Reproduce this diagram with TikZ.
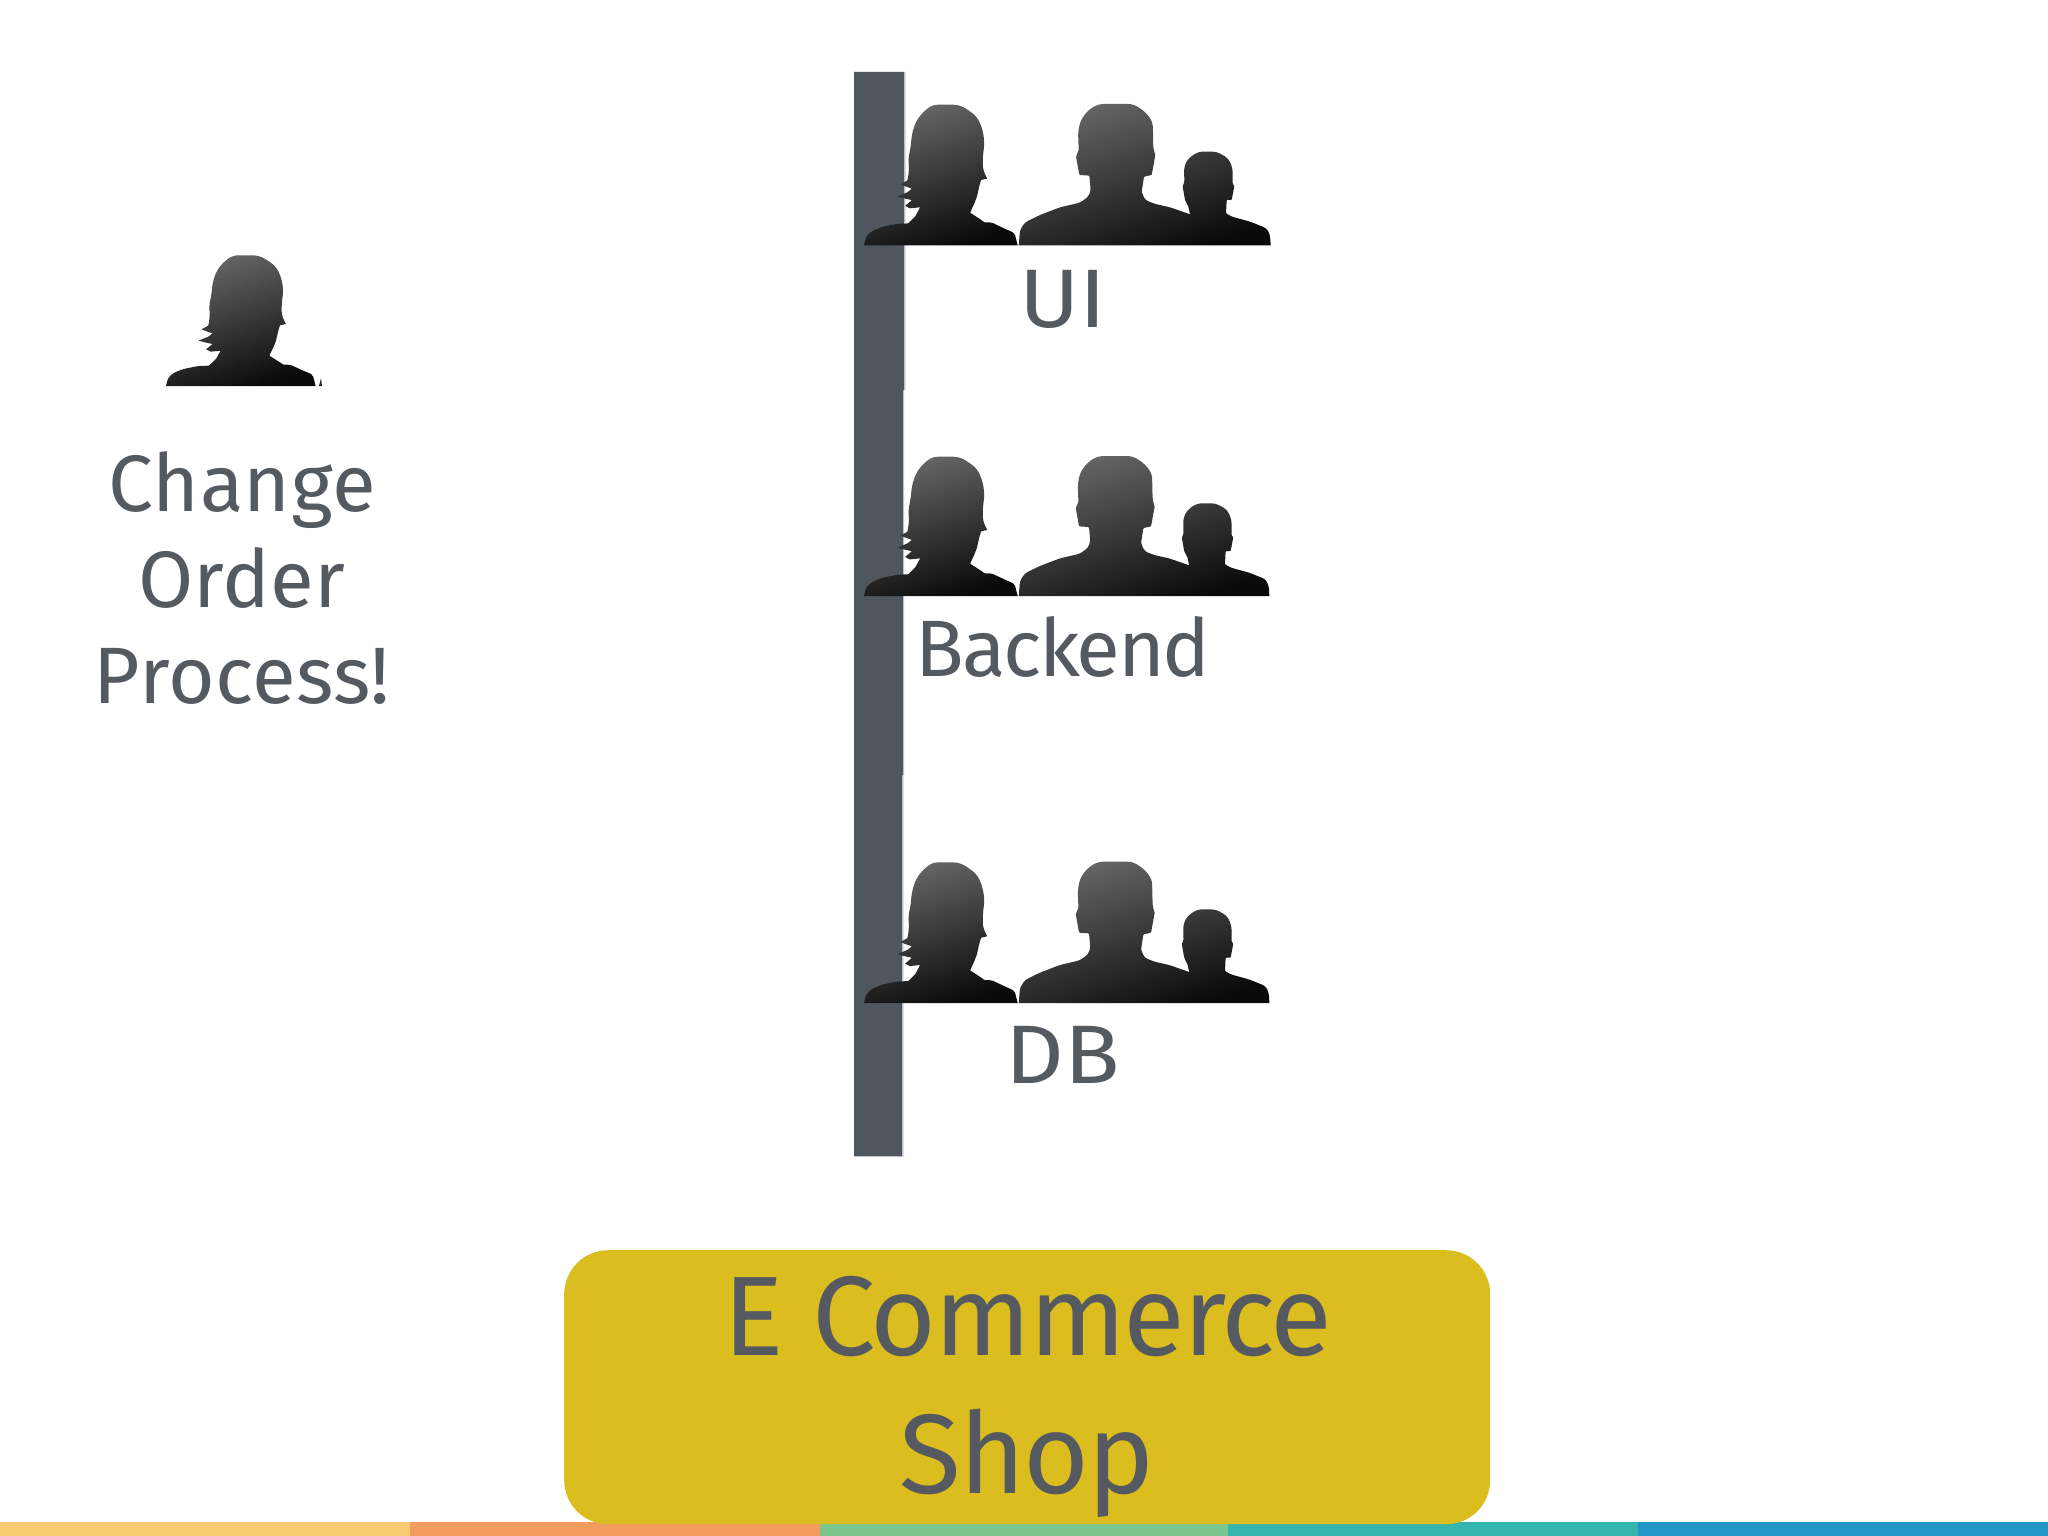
\documentclass[tikz,border=0pt]{standalone}
\usepackage{fontspec}
\setmainfont{Fira Sans}
\newfontfamily\spaced{Fira Sans}[LetterSpace=0.5]
\newfontfamily\tight{Fira Sans}[LetterSpace=-3]
\newfontfamily\wide{Fira Sans}[FakeStretch=1.1]
\newfontfamily\shopfont{Fira Sans}[LetterSpace=-2]
\definecolor{inkgrey}{HTML}{555A60}
\definecolor{barcol}{HTML}{50565D}
\definecolor{shopcol}{HTML}{DCBD20}
\definecolor{s1}{HTML}{F8CB70}
\definecolor{s2}{HTML}{F29D5E}
\definecolor{s3}{HTML}{7DC58F}
\definecolor{s4}{HTML}{33B5AD}
\definecolor{s5}{HTML}{2298C8}
\tikzset{
  sil/.style={top color=black!60,bottom color=black!96,shading angle=18},
  label/.style={text=inkgrey,anchor=base,inner sep=0pt,font=\fontsize{83}{95}\selectfont},
  woman/.pic={
    \begin{scope}[x=.3333pt,y=-.3333pt,shift={(-78,-436)}]
    \path[sil] (78,436) [rounded corners=3pt] --(84,412)--(100,397)--(130,385)--(175,376) [rounded corners=.5pt] --(207,375)--(228,355)--(242,330)--(212,333)--(198,326)--(218,310)--(195,305)--(175,300)--(205,288)--(218,278)--(200,272)--(184,266)--(205,255) [rounded corners=5pt] --(210,225)--(207,195)--(214,165)--(218,125)--(230,90)--(250,65)--(278,44)--(355,44)--(385,60)--(410,80)--(425,115)--(430,150)--(425,190)--(425,225) [rounded corners=.5pt] --(438,250)--(420,254)--(415,270)--(408,300)--(400,320)--(388,345)--(420,365)--(430,372) [rounded corners=2pt] --(450,372)--(490,390)--(518,402) [sharp corners] --(527,436)--cycle;
    \end{scope}
  },
  men/.pic={
    \begin{scope}[x=.3333pt,y=-.3333pt,shift={(-536,-556)}]
    \path[sil] (536,556) [rounded corners=3pt] --(540,510)--(555,487)--(600,465)--(660,442)--(720,428)--(745,410)--(752,392) [rounded corners=.8pt] --(748,347)--(718,345)--(708,290)--(716,270) [rounded corners=5pt] --(714,215)--(722,180)--(745,150)--(775,132)--(880,132)--(915,155)--(938,185)--(940,270) [rounded corners=.8pt] --(946,285)--(935,345)--(912,350)--(905,395) [rounded corners=3pt] --(915,420)--(945,432)--(990,442) [sharp corners] --(1050,463)--(1045,440) [rounded corners=.8pt] --(1035,420)--(1028,380)--(1033,365) [rounded corners=4pt] --(1032,320)--(1045,295)--(1075,275)--(1130,275)--(1165,295)--(1178,325) [rounded corners=.8pt] --(1178,372)--(1183,378)--(1175,420)--(1160,420)--(1158,460) [rounded corners=3pt] --(1175,470)--(1230,485)--(1280,505)--(1290,525) [sharp corners] --(1292,556)--cycle;
    \end{scope}
  }
}
\begin{document}
\begin{tikzpicture}[x=1pt,y=-1pt]
\useasboundingbox (0,0) rectangle (2048,1536);
\fill[white] (0,0) rectangle (2048,1536);
% colour strip
\fill[s1] (0,1522) rectangle (410,1536);
\fill[s2] (410,1522) rectangle (820,1536);
\fill[s3] (820,1522) rectangle (1228,1536);
\fill[s4] (1228,1522) rectangle (1638,1536);
\fill[s5] (1638,1522) rectangle (2048,1536);
% vertical bar
\fill[black!18] (904,72)--(905.5,72)--(905.5,390)--(904,390)--(904,775)--(903.5,775)--(903.5,1157)--(854,1157)--(854,72)--cycle;
\fill[barcol] (854,72)--(904,72)--(904,390)--(903,390)--(903,775)--(902,775)--(902,1156)--(854,1156)--cycle;
% silhouettes
\pic[xscale=1.027,yscale=1.076] at (864,245.3) {woman};
\pic at (1018.7,245.3) {men};
\pic[xscale=1.027,yscale=1.066] at (864,596) {woman};
\pic[xscale=.995,yscale=.99] at (1018.7,596) {men};
\pic[xscale=1.027,yscale=1.076] at (864,1003) {woman};
\pic[xscale=.995] at (1018.7,1003) {men};
\pic at (166,386) {woman};
\fill[black!85] (319,386)--(321,378)--(322,386)--cycle;
% labels
\node[label,font=\fontsize{83}{95}\wide] (ui) at (1063,327) {UI};
\node[label,font=\fontsize{80}{95}\tight] (backend) at (1063,676.5) {Backend};
\node[label,font=\fontsize{83}{95}\wide] (db) at (1063,1083) {DB};
\node[label,align=center,font=\fontsize{80}{96}\spaced,anchor=north] (change) at (242,451) {Change\\Order\\Process!};
% shop
\node[draw=none,fill=shopcol,rounded corners=44pt,minimum width=926pt,minimum height=274pt,inner sep=0pt,anchor=north west] (shop) at (564,1250) {};
\node[text=inkgrey,inner sep=0pt,anchor=base,font=\fontsize{113}{138}\shopfont] (shoptop) at (1028,1355) {E Commerce};
\node[text=inkgrey,inner sep=0pt,anchor=base,font=\fontsize{113}{138}\shopfont] (shopbot) at (1027,1493) {Shop};
\end{tikzpicture}
\end{document}
